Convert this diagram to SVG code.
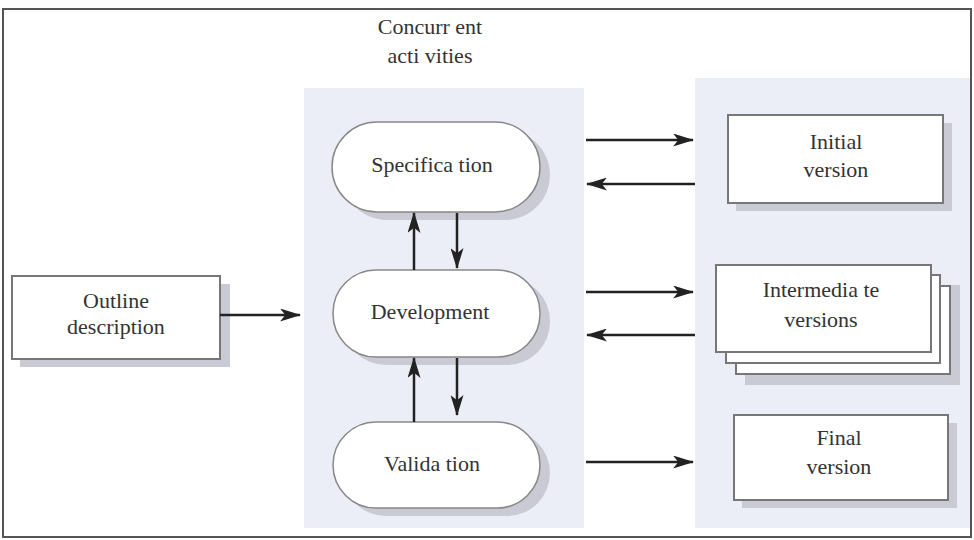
<svg xmlns="http://www.w3.org/2000/svg" width="974" height="540" viewBox="0 0 974 540">
<defs>
<style>
.t{font-family:"Liberation Serif","Times New Roman","DejaVu Serif",serif;font-size:22px;fill:#333;text-anchor:middle}
.panel{fill:#eceef7}
.pill{fill:#fff;stroke:#888;stroke-width:1.5}
.box{fill:#fff;stroke:#777;stroke-width:2}
.sh{fill:#c9cad3}
.c{stroke:#222;stroke-width:2.5;fill:none}
</style>
<marker id="ah" viewBox="0 0 10 10" refX="9.5" refY="5" markerWidth="21" markerHeight="13" markerUnits="userSpaceOnUse" orient="auto" preserveAspectRatio="none">
<path d="M0,0 L10,5 L0,10 L2.5,5 z" fill="#222"/>
</marker>
</defs>
<rect x="0" y="0" width="974" height="540" fill="#fff"/>
<rect x="3" y="9" width="968" height="528" fill="#fff" stroke="#555" stroke-width="2"/>
<rect class="panel" x="304" y="88" width="280" height="440"/>
<rect class="panel" x="695" y="78" width="275" height="450"/>
<g id="title">
<text class="t" x="430" y="34">Concurr ent</text>
<text class="t" x="430" y="63">acti vities</text>
</g>
<g id="outline">
<rect class="sh" x="20" y="284" width="210" height="83"/>
<rect class="box" x="12" y="276" width="208" height="83"/>
<text class="t" x="116" y="308">Outline</text>
<text class="t" x="116" y="334">description</text>
</g>
<g id="specification">
<rect class="sh" x="342" y="130" width="208" height="90" rx="45"/>
<rect class="pill" x="332" y="122" width="208" height="90" rx="45"/>
<text class="t" x="432" y="172">Specifica tion</text>
</g>
<g id="development">
<rect class="sh" x="343" y="278" width="207" height="87" rx="43"/>
<rect class="pill" x="333" y="270" width="207" height="87" rx="43"/>
<text class="t" x="430" y="319">Development</text>
</g>
<g id="validation">
<rect class="sh" x="343" y="430" width="207" height="86" rx="43"/>
<rect class="pill" x="333" y="422" width="207" height="86" rx="43"/>
<text class="t" x="432" y="471">Valida tion</text>
</g>
<g id="initial">
<rect class="sh" x="736" y="123" width="216" height="88"/>
<rect class="box" x="728" y="115" width="215" height="88"/>
<text class="t" x="836" y="149">Initial</text>
<text class="t" x="836" y="177">version</text>
</g>
<g id="intermediate">
<rect class="sh" x="745" y="285" width="215" height="100"/>
<rect class="box" x="736" y="286" width="214" height="88"/>
<rect class="box" x="726" y="275" width="214" height="88"/>
<rect class="box" x="716" y="265" width="215" height="87"/>
<text class="t" x="821" y="297">Intermedia te</text>
<text class="t" x="821" y="327">versions</text>
</g>
<g id="final">
<rect class="sh" x="742" y="423" width="215" height="85"/>
<rect class="box" x="734" y="415" width="214" height="85"/>
<text class="t" x="839" y="445">Final</text>
<text class="t" x="839" y="474">version</text>
</g>
<g id="connectors">
<line class="c" x1="220" y1="315" x2="300" y2="315" marker-end="url(#ah)"/>
<line class="c" x1="414" y1="270" x2="414" y2="213" marker-end="url(#ah)"/>
<line class="c" x1="457" y1="213" x2="457" y2="268" marker-end="url(#ah)"/>
<line class="c" x1="414" y1="422" x2="414" y2="358" marker-end="url(#ah)"/>
<line class="c" x1="457" y1="358" x2="457" y2="415" marker-end="url(#ah)"/>
<line class="c" x1="586" y1="140" x2="693" y2="140" marker-end="url(#ah)"/>
<line class="c" x1="695" y1="184" x2="587" y2="184" marker-end="url(#ah)"/>
<line class="c" x1="586" y1="292" x2="693" y2="292" marker-end="url(#ah)"/>
<line class="c" x1="695" y1="335" x2="587" y2="335" marker-end="url(#ah)"/>
<line class="c" x1="586" y1="462" x2="693" y2="462" marker-end="url(#ah)"/>
</g>
</svg>
